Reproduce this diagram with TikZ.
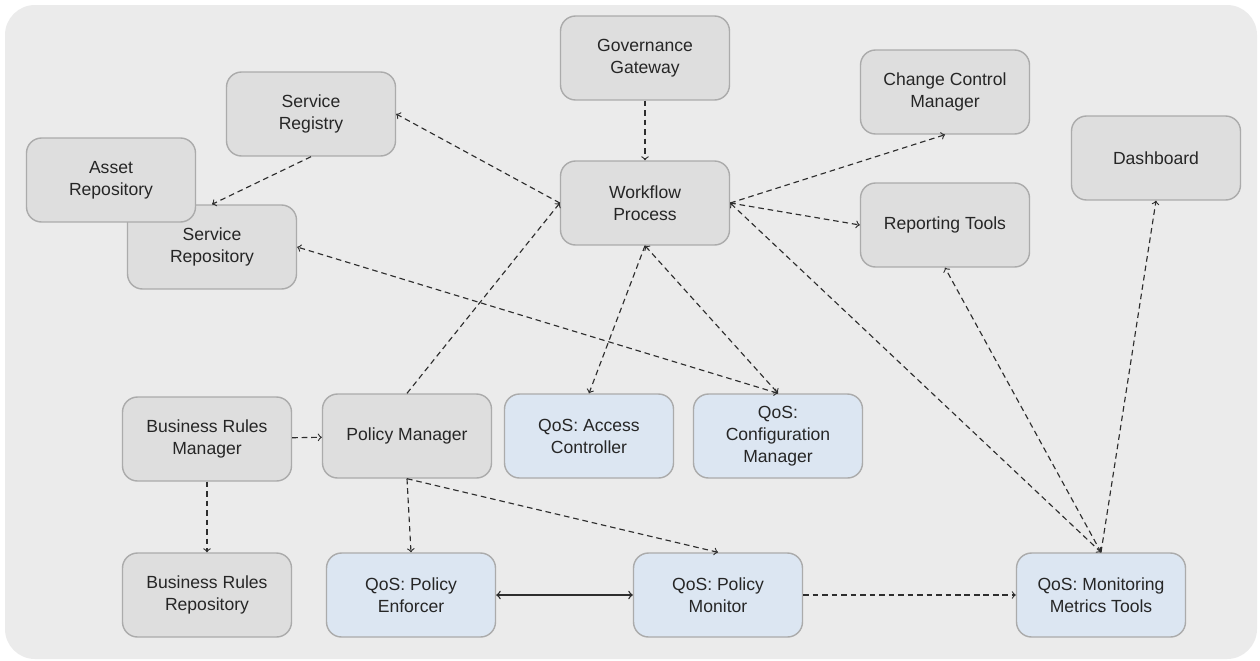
\documentclass[tikz,border=0pt]{standalone}
\usepackage{fontspec}
\setmainfont{Liberation Sans}
\usetikzlibrary{arrows}

\definecolor{bgfill}{HTML}{EBEBEB}
\definecolor{boxfill}{HTML}{DEDEDE}
\definecolor{boxline}{HTML}{ABABAB}
\definecolor{qosfill}{HTML}{DCE6F2}
\definecolor{wire}{HTML}{2E2E2E}

\tikzset{
  box/.style={draw=boxline, fill=boxfill, line width=0.8pt, rounded corners=0.3cm,
    minimum width=3.38cm, minimum height=1.68cm, align=center,
    font=\fontsize{10}{12.5}\selectfont, text=black!85},
  qos/.style={box, fill=qosfill},
  link/.style={draw=wire, line width=0.65pt, dash pattern=on 3.2pt off 2.2pt, ->},
}

\begin{document}
\begin{tikzpicture}[x=0.02cm, y=-0.02cm]
      \useasboundingbox (0,0) rectangle (1260,660);
      \fill[bgfill, rounded corners=0.6cm] (5,5) rectangle (1257,659);

      \draw
        (645,58) node[box] (gov){Governance\\Gateway}
        (645,203) node[box] (wf){Workflow\\Process}
        (311,114) node[box] (reg){Service\\Registry}
        (212,247) node[box] (srep){Service\\Repository}
        (111,180) node[box] (asset){Asset\\Repository}
        (945,92) node[box] (ccm){Change Control\\Manager}
        (945,225) node[box] (rep){Reporting Tools}
        (1156,158) node[box] (dash){Dashboard}
        (207,439) node[box] (brm){Business Rules\\Manager}
        (407,436) node[box] (pm){Policy Manager}
        (589,436) node[qos] (acc){QoS: Access\\Controller}
        (778,436) node[qos] (cfg){QoS:\\Configuration\\Manager}
        (207,595) node[box] (brr){Business Rules\\Repository}
        (411,595) node[qos] (enf){QoS: Policy\\Enforcer}
        (718,595) node[qos] (mon){QoS: Policy\\Monitor}
        (1101,595) node[qos] (mmt){QoS: Monitoring\\Metrics Tools};
      \begin{scope}[link]
        \draw (gov) to (wf);
        \draw (wf.west) to (reg.east);
        \draw (reg.south) to (srep.north);
        \draw[<->] (cfg.north) to (srep.east);
        \draw (pm.north) to (wf.west);
        \draw (wf.south) to (acc.north);
        \draw[<->] (wf.south) to (cfg.north);
        \draw (wf.east) to (ccm.south);
        \draw (wf.east) to (rep.west);
        \draw[<->] (wf.east) to (mmt.north);
        \draw (mmt.north) to (rep.south);
        \draw (mmt.north) to (dash.south);
        \draw (brm) to (pm);
        \draw (brm) to (brr);
        \draw (pm.south) to (enf.north);
        \draw (pm.south) to (mon.north);
        \draw (mon) to (mmt);
        \draw[solid, line width=0.8pt, <->] (enf) to (mon);
      \end{scope}
    \end{tikzpicture}
\end{document}
